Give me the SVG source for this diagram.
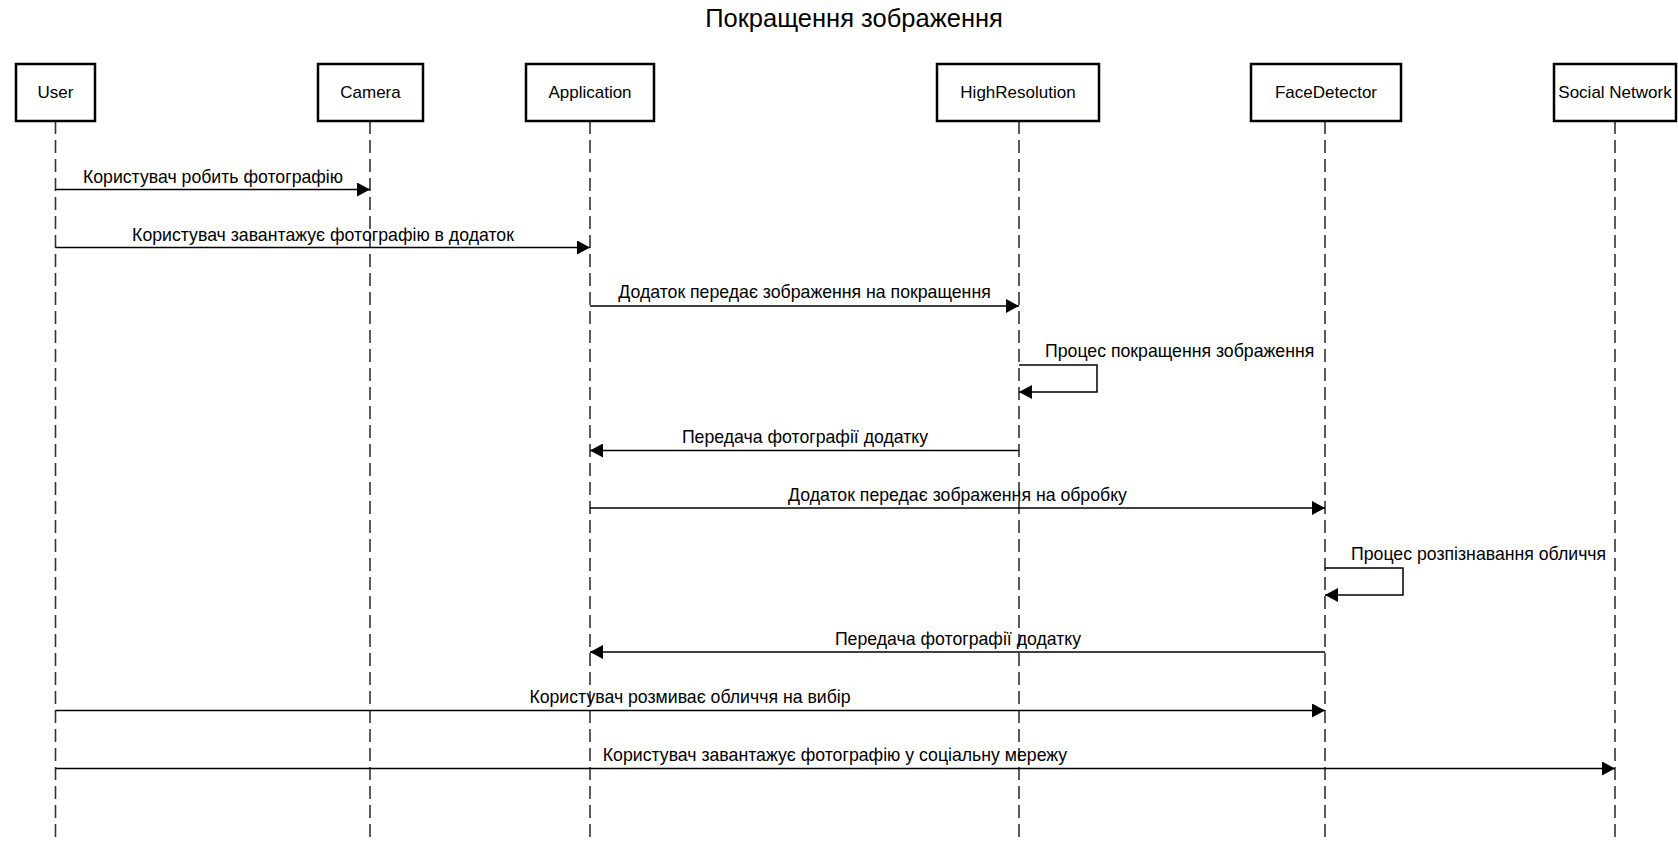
<svg xmlns="http://www.w3.org/2000/svg" width="1678" height="841" viewBox="0 0 1678 841">
<defs>
<marker id="ah" markerWidth="14" markerHeight="14" refX="13" refY="7" orient="auto" markerUnits="userSpaceOnUse">
<path d="M0,0 L13,7 L0,14 Z" fill="#000"/>
</marker>
</defs>
<style>
text{font-family:"Liberation Sans",Arial,sans-serif;fill:#000}
.title{font-size:25.5px}
.lbl{font-size:17px}
.msgl{font-size:17.7px}
.box{fill:#fff;stroke:#000;stroke-width:2.5}
.life{stroke:#333;stroke-width:1.6;stroke-dasharray:13,6;fill:none}
.msg{stroke:#000;stroke-width:1.5;fill:none;marker-end:url(#ah)}
</style>
<rect width="1678" height="841" fill="#fff"/>
<text class="title" x="854" y="27" text-anchor="middle">Покращення зображення</text>
<g id="lifelines">
<line class="life" x1="55.5" y1="121" x2="55.5" y2="841"/>
<line class="life" x1="370" y1="121" x2="370" y2="841"/>
<line class="life" x1="590" y1="121" x2="590" y2="841"/>
<line class="life" x1="1019" y1="121" x2="1019" y2="841"/>
<line class="life" x1="1325" y1="121" x2="1325" y2="841"/>
<line class="life" x1="1615" y1="121" x2="1615" y2="841"/>
</g>
<g id="user"><rect class="box" x="16" y="64" width="79" height="57"/><text class="lbl" x="55.5" y="98" text-anchor="middle">User</text></g>
<g id="camera"><rect class="box" x="318" y="64" width="105" height="57"/><text class="lbl" x="370.5" y="98" text-anchor="middle">Camera</text></g>
<g id="application"><rect class="box" x="526" y="64" width="128" height="57"/><text class="lbl" x="590" y="98" text-anchor="middle">Application</text></g>
<g id="highresolution"><rect class="box" x="937" y="64" width="162" height="57"/><text class="lbl" x="1018" y="98" text-anchor="middle">HighResolution</text></g>
<g id="facedetector"><rect class="box" x="1251" y="64" width="150" height="57"/><text class="lbl" x="1326" y="98" text-anchor="middle">FaceDetector</text></g>
<g id="socialnetwork"><rect class="box" x="1554" y="64" width="122" height="57"/><text class="lbl" x="1615" y="98" text-anchor="middle">Social Network</text></g>
<g id="connectors">
<line class="msg" x1="55.5" y1="189.5" x2="370" y2="189.5"/>
<text class="msgl" x="213" y="183" text-anchor="middle">Користувач робить фотографію</text>
<line class="msg" x1="55.5" y1="247.5" x2="590" y2="247.5"/>
<text class="msgl" x="323" y="241" text-anchor="middle">Користувач завантажує фотографію в додаток</text>
<line class="msg" x1="590" y1="306" x2="1019" y2="306"/>
<text class="msgl" x="804.5" y="298" text-anchor="middle">Додаток передає зображення на покращення</text>
<path class="msg" d="M1019,365 H1097 V392 H1019"/>
<text class="msgl" x="1045" y="357">Процес покращення зображення</text>
<line class="msg" x1="1019" y1="450.5" x2="590" y2="450.5"/>
<text class="msgl" x="805" y="443" text-anchor="middle">Передача фотографії додатку</text>
<line class="msg" x1="590" y1="508" x2="1325" y2="508"/>
<text class="msgl" x="957.5" y="501" text-anchor="middle">Додаток передає зображення на обробку</text>
<path class="msg" d="M1325,568 H1403 V595 H1325"/>
<text class="msgl" x="1351" y="560">Процес розпізнавання обличчя</text>
<line class="msg" x1="1325" y1="652" x2="590" y2="652"/>
<text class="msgl" x="958" y="645" text-anchor="middle">Передача фотографії додатку</text>
<line class="msg" x1="55.5" y1="710.5" x2="1325" y2="710.5"/>
<text class="msgl" x="690" y="703" text-anchor="middle">Користувач розмиває обличчя на вибір</text>
<line class="msg" x1="55.5" y1="768.5" x2="1615" y2="768.5"/>
<text class="msgl" x="835" y="761" text-anchor="middle">Користувач завантажує фотографію у соціальну мережу</text>
</g>
</svg>
